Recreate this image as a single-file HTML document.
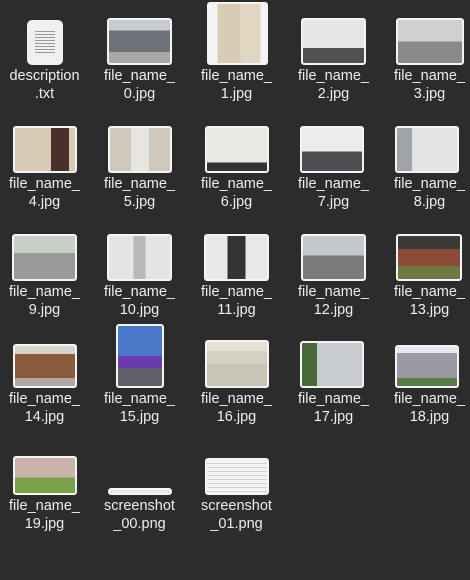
<!DOCTYPE html>
<html><head><meta charset="utf-8"><style>
body{margin:0;width:470px;height:580px;background:#2c2c2c;overflow:hidden;position:relative;font-family:"Liberation Sans",sans-serif}
.t{position:absolute;border:2px solid #f4f4f4;border-radius:3px;box-sizing:border-box}
.l{position:absolute;width:97px;text-align:center;color:#eeeeee;font-size:14.5px;line-height:18px}
</style></head><body>
<div class="t" style="left:27px;top:20px;width:36px;height:45px;background:#f0f0f0;border:none;border-radius:5px">
<div style="position:absolute;left:8px;top:11px;width:20px;height:22px;background:repeating-linear-gradient(#999 0 1px,transparent 1px 3px)"></div></div>
<div class="l" style="left:-4px;top:67px">description<br>.txt</div>

<div class="t" style="left:107px;top:18px;width:65px;height:47px;background:linear-gradient(#c8ccd0 0 25%,#6d7278 25% 75%,#a8a8a8 75%)"></div>
<div class="l" style="left:91px;top:67px">file_name_<br>0.jpg</div>
<div class="t" style="left:207px;top:2px;width:61px;height:63px;background:linear-gradient(90deg,#f4f4f4 0 15%,#d8ccb4 15% 55%,#e0d6c2 55% 90%,#f4f4f4 90%)"></div>
<div class="l" style="left:188px;top:67px">file_name_<br>1.jpg</div>
<div class="t" style="left:301px;top:18px;width:65px;height:47px;background:linear-gradient(#e6e6e6 0 65%,#505050 65%)"></div>
<div class="l" style="left:285px;top:67px">file_name_<br>2.jpg</div>
<div class="t" style="left:396px;top:18px;width:68px;height:47px;background:linear-gradient(#d0d0d0 0 50%,#8a8a8a 50%)"></div>
<div class="l" style="left:381px;top:67px">file_name_<br>3.jpg</div>

<div class="t" style="left:13px;top:126px;width:64px;height:47px;background:linear-gradient(90deg,#d8cab4 0 60%,#4a3028 60% 90%,#d8cab4 90%)"></div>
<div class="l" style="left:-4px;top:175px">file_name_<br>4.jpg</div>
<div class="t" style="left:108px;top:126px;width:64px;height:47px;background:linear-gradient(90deg,#cfc8bc 0 35%,#e8e6e0 35% 65%,#cfc8bc 65%)"></div>
<div class="l" style="left:91px;top:175px">file_name_<br>5.jpg</div>
<div class="t" style="left:205px;top:126px;width:64px;height:47px;background:linear-gradient(#e8e8e4 0 80%,#333 80%)"></div>
<div class="l" style="left:188px;top:175px">file_name_<br>6.jpg</div>
<div class="t" style="left:300px;top:126px;width:64px;height:47px;background:linear-gradient(#ececec 0 55%,#4e4e52 55%)"></div>
<div class="l" style="left:285px;top:175px">file_name_<br>7.jpg</div>
<div class="t" style="left:395px;top:126px;width:64px;height:47px;background:linear-gradient(90deg,#a0a4a8 0 25%,#e4e4e4 25%)"></div>
<div class="l" style="left:381px;top:175px">file_name_<br>8.jpg</div>

<div class="t" style="left:12px;top:234px;width:65px;height:47px;background:linear-gradient(#c8d0c8 0 40%,#9a9a9a 40%)"></div>
<div class="l" style="left:-4px;top:283px">file_name_<br>9.jpg</div>
<div class="t" style="left:107px;top:234px;width:65px;height:47px;background:linear-gradient(90deg,#e4e4e4 0 40%,#b8b8b8 40% 60%,#e4e4e4 60%)"></div>
<div class="l" style="left:91px;top:283px">file_name_<br>10.jpg</div>
<div class="t" style="left:204px;top:234px;width:65px;height:47px;background:linear-gradient(90deg,#e8e8e8 0 35%,#333 35% 65%,#e8e8e8 65%)"></div>
<div class="l" style="left:188px;top:283px">file_name_<br>11.jpg</div>
<div class="t" style="left:301px;top:234px;width:65px;height:47px;background:linear-gradient(#c4c8cc 0 45%,#7a7c7a 45%)"></div>
<div class="l" style="left:285px;top:283px">file_name_<br>12.jpg</div>
<div class="t" style="left:396px;top:234px;width:66px;height:47px;background:linear-gradient(#3a3a38 0 30%,#8c4a38 30% 70%,#6a7a40 70%)"></div>
<div class="l" style="left:381px;top:283px">file_name_<br>13.jpg</div>

<div class="t" style="left:13px;top:344px;width:64px;height:44px;background:linear-gradient(#d8d4cc 0 20%,#8a5a3a 20% 80%,#b0a8a0 80%)"></div>
<div class="l" style="left:-4px;top:390px">file_name_<br>14.jpg</div>
<div class="t" style="left:116px;top:324px;width:48px;height:64px;background:linear-gradient(#4a78c8 0 50%,#6a3ab0 50% 70%,#606068 70%)"></div>
<div class="l" style="left:91px;top:390px">file_name_<br>15.jpg</div>
<div class="t" style="left:205px;top:340px;width:64px;height:48px;background:linear-gradient(#e4e0d4 0 20%,#d4d0c4 20% 50%,#c8c4b4 50%)"></div>
<div class="l" style="left:188px;top:390px">file_name_<br>16.jpg</div>
<div class="t" style="left:300px;top:341px;width:64px;height:47px;background:linear-gradient(90deg,#4a6a3a 0 25%,#c8ccd0 25%)"></div>
<div class="l" style="left:285px;top:390px">file_name_<br>17.jpg</div>
<div class="t" style="left:395px;top:345px;width:64px;height:43px;background:linear-gradient(#e4e8f0 0 15%,#9a9aa4 15% 80%,#5a7a4a 80%)"></div>
<div class="l" style="left:381px;top:390px">file_name_<br>18.jpg</div>

<div class="t" style="left:13px;top:456px;width:64px;height:39px;background:linear-gradient(#c8b4a8 0 55%,#7aa04a 55%)"></div>
<div class="l" style="left:-4px;top:497px">file_name_<br>19.jpg</div>
<div class="t" style="left:108px;top:488px;width:64px;height:7px;background:#e8e8e8"></div>
<div class="l" style="left:91px;top:497px">screenshot<br>_00.png</div>
<div class="t" style="left:205px;top:458px;width:64px;height:37px;background:repeating-linear-gradient(#f4f4f4 0 3px,#cfcfcf 3px 4px)"></div>
<div class="l" style="left:188px;top:497px">screenshot<br>_01.png</div>
</body></html>
